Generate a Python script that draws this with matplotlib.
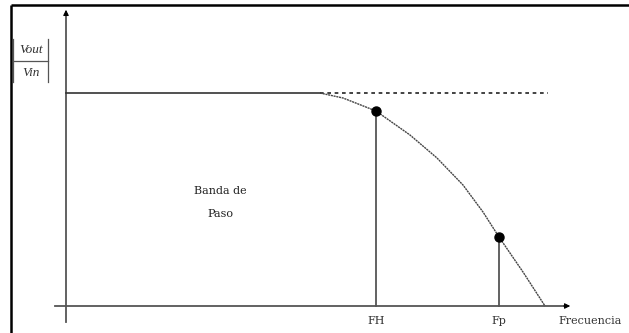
import matplotlib
matplotlib.use("Agg")
import matplotlib.pyplot as plt

# Data (frequency units / magnitude units, origin at axis crossing)
flat_level = 213
flat_end = 254
dash_end = 482
curve_f = [254, 277, 310, 344, 371, 397, 417, 433, 457, 479]
curve_m = [213, 208, 195, 171, 148, 121, 94, 69, 34, 0]
marker_f = [310, 433]
marker_m = [195, 69]
marker_labels = ["FH", "Fp"]
x_label = "Frecuencia"
band_label = ["Banda de", "Paso"]

fig = plt.figure(figsize=(6.29, 3.33), dpi=100)
ax = fig.add_axes([0, 0, 1, 1])
ax.set_xlim(-66, 563)
ax.set_ylim(-27, 306)
ax.axis("off")

axc = "#555555"
serif = "DejaVu Serif"
# frame (left and top)
ax.plot([-55, -55], [-27, 301], color="black", lw=1.8, solid_capstyle="butt")
ax.plot([-55, 563], [301, 301], color="black", lw=1.8, solid_capstyle="butt")

# axes
ax.plot([0, 0], [-16, 292], color=axc, lw=1.3)
ax.plot([-11, 500], [0, 0], color=axc, lw=1.3)
ax.annotate("", xy=(0, 299), xytext=(0, 288),
            arrowprops=dict(arrowstyle="-|>", color="black", lw=0.8, mutation_scale=8))
ax.annotate("", xy=(507, 0), xytext=(495, 0),
            arrowprops=dict(arrowstyle="-|>", color="black", lw=0.8, mutation_scale=8))

# flat pass band
ax.plot([0, flat_end], [flat_level, flat_level], color="#333333", lw=1.2)
ax.plot([flat_end, dash_end], [flat_level, flat_level], color="#222222", lw=1.2,
        dashes=(2.2, 2.2))

# roll-off curve
ax.plot(curve_f, curve_m, color="#444444", lw=1.0, dashes=(1.5, 0.5))

# markers and vertical lines
for f, m, lab in zip(marker_f, marker_m, marker_labels):
    ax.plot([f, f], [0, m], color=axc, lw=1.3)
    ax.plot(f, m, "o", color="black", ms=6.5)
    ax.text(f, -10, lab, ha="center", va="top", fontsize=8,
            family=serif, color="#333333")

ax.text(492, -10, x_label, ha="left", va="top", fontsize=8,
        family=serif, color="#333333")
ax.text(154, 115, band_label[0], ha="center", va="center", fontsize=8,
        family=serif, color="#222222")
ax.text(154, 92, band_label[1], ha="center", va="center", fontsize=8,
        family=serif, color="#222222")

# |Vout / Vin|
ax.text(-35, 256, "Vout", ha="center", va="center", fontsize=9.5,
        family="Liberation Serif", style="italic", color="#333333")
ax.text(-35, 233, "Vin", ha="center", va="center", fontsize=9.5,
        family="Liberation Serif", style="italic", color="#333333")
ax.plot([-53, -18], [245, 245], color=axc, lw=0.9)
ax.plot([-53, -53], [224, 267], color=axc, lw=0.9)
ax.plot([-18, -18], [224, 267], color=axc, lw=0.9)

fig.savefig("out.png", dpi=100)
